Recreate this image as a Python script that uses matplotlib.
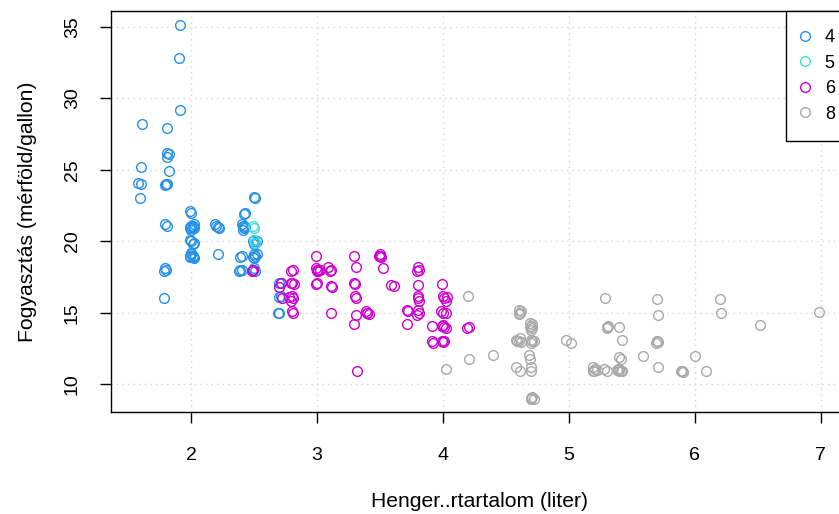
import matplotlib.pyplot as plt
from matplotlib.lines import Line2D

plt.rcParams['font.family'] = ['Liberation Sans', 'DejaVu Sans']

# Hengerszám szerinti csoportok: lökettérfogat (x) és városi fogyasztás (y), enyhén szétszórva
x4 = [1.91, 1.90, 1.91, 1.61, 1.81, 1.81, 1.82, 1.81, 1.60, 1.82, 1.58, 1.60,
      1.80, 1.81, 1.79, 1.59, 2.50, 2.51, 2.00, 1.99, 1.79, 1.81,
      2.00, 2.01, 1.99, 2.02, 2.00, 2.01, 1.99, 2.02,
      2.20, 2.21, 2.19, 2.22, 2.41, 2.42, 2.43, 2.40, 2.42, 2.41, 2.42, 2.43,
      2.00, 1.99, 2.02, 2.01, 2.00, 2.01, 1.99, 2.02, 2.00, 2.01, 1.99,
      2.21, 2.39, 2.40, 2.50, 2.51, 2.49, 2.50, 2.52, 2.50, 2.49, 2.51, 2.50, 2.52,
      2.38, 2.40, 2.39, 2.49, 2.51, 2.50, 1.78, 1.80, 1.79, 1.78,
      2.70, 2.71, 2.70, 2.71, 2.69, 2.70]
y4 = [35.1, 32.8, 29.2, 28.2, 27.9, 26.2, 26.1, 25.9, 25.2, 24.9, 24.1, 24.0,
      24.0, 24.0, 23.9, 23.0, 23.1, 23.0, 22.0, 22.1, 21.2, 21.1,
      21.1, 21.0, 20.9, 21.2, 20.8, 21.1, 21.0, 20.9,
      21.1, 21.0, 21.2, 20.9, 21.1, 20.9, 21.0, 21.2, 21.1, 20.8, 21.9, 22.0,
      20.0, 20.1, 19.9, 19.8, 19.1, 19.0, 18.9, 18.8, 19.2, 18.9, 19.0,
      19.1, 18.9, 19.0, 20.1, 19.9, 20.0, 19.8, 20.0, 19.1, 18.9, 19.0, 18.8, 19.1,
      17.9, 18.0, 18.0, 18.0, 17.9, 18.1, 17.9, 18.0, 18.1, 16.0,
      17.1, 17.1, 16.1, 16.2, 15.0, 14.97]

x5 = [2.49, 2.50, 2.50, 2.51]
y5 = [21.1, 20.9, 20.1, 19.9]

x6 = [2.48, 2.49, 2.79, 2.81, 2.80, 2.82, 2.79, 2.80, 2.81, 2.79, 2.80, 2.81, 2.78,
      2.70, 2.71, 2.72,
      2.99, 3.00, 3.01, 2.99, 3.02, 3.00, 3.00, 2.99,
      3.09, 3.10, 3.11, 3.11, 3.12, 3.11,
      3.29, 3.31, 3.29, 3.30, 3.30, 3.31, 3.31, 3.29, 3.32,
      3.39, 3.40, 3.41, 3.40,
      3.50, 3.51, 3.49, 3.50, 3.52, 3.59, 3.61,
      3.71, 3.72, 3.71,
      3.80, 3.81, 3.79, 3.80, 3.80, 3.81, 3.80, 3.80, 3.79, 3.81,
      3.91, 3.91, 3.92,
      3.99, 4.00, 4.01, 4.02, 4.03, 3.98, 4.00, 4.02, 4.00, 4.01, 3.99, 4.02,
      3.99, 4.00, 4.01, 4.19, 4.21]
y6 = [17.9, 18.0, 17.9, 18.0, 17.1, 17.0, 17.1, 16.2, 16.0, 15.8, 15.1, 15.0, 16.1,
      16.8, 17.1, 16.0,
      19.0, 18.0, 17.9, 18.1, 18.0, 17.9, 17.1, 17.0,
      18.2, 17.9, 18.0, 16.9, 16.8, 15.0,
      19.0, 18.2, 17.1, 17.0, 16.2, 16.0, 14.85, 14.2, 10.9,
      15.1, 15.0, 14.9, 14.95,
      19.1, 18.9, 19.0, 18.95, 18.15, 16.95, 16.9,
      15.2, 15.1, 14.2,
      18.2, 18.0, 17.9, 16.95, 16.2, 15.8, 16.0, 15.2, 14.85, 15.0,
      14.07, 13.0, 12.9,
      17.0, 16.2, 16.0, 15.8, 16.1, 15.1, 15.0, 15.0, 14.15, 14.0, 14.1, 13.95,
      13.0, 12.95, 13.05, 13.9, 14.0]

x8 = [4.20, 4.02, 4.21, 4.40,
      4.60, 4.61, 4.60, 4.62, 4.58, 4.60, 4.61, 4.62, 4.59, 4.58, 4.61,
      4.69, 4.70, 4.71, 4.70, 4.69, 4.71, 4.70, 4.71, 4.70, 4.72, 4.68, 4.69,
      4.70, 4.70, 4.70, 4.71, 4.72, 4.70,
      4.98, 5.02, 5.19, 5.20, 5.21, 5.19, 5.22,
      5.29, 5.30, 5.31, 5.30, 5.28, 5.30,
      5.40, 5.42, 5.40, 5.41, 5.38, 5.40, 5.42, 5.39, 5.41, 5.40,
      5.59, 5.70, 5.71, 5.70, 5.69, 5.71, 5.70, 5.71,
      5.90, 5.89, 5.91, 6.00, 6.09, 6.20, 6.21, 6.52, 6.99]
y8 = [16.2, 11.05, 11.8, 12.05,
      15.2, 15.0, 14.9, 15.1, 13.1, 13.0, 13.2, 12.95, 13.05, 11.2, 10.9,
      14.3, 14.1, 13.9, 13.8, 14.0, 14.2, 13.1, 13.0, 12.9, 13.05, 12.05, 11.8,
      11.2, 10.9, 9.0, 9.1, 9.0, 9.05,
      13.1, 12.9, 11.2, 10.9, 11.1, 10.95, 11.0,
      16.0, 14.0, 14.05, 13.95, 11.1, 10.95,
      14.0, 13.1, 11.9, 11.8, 11.0, 10.9, 10.95, 11.1, 10.9, 11.05,
      12.0, 15.95, 14.83, 13.0, 12.85, 12.95, 13.05, 11.2,
      10.9, 10.95, 10.85, 12.0, 10.95, 15.96, 15.0, 14.15, 15.03]

csoportok = ["4", "5", "6", "8"]
szinek = ["#2490E6", "#3FE0D8", "#CD00CD", "#A9A9A9"]

fig = plt.figure(figsize=(8.39, 5.14), dpi=100)
ax = fig.add_axes([0.1327, 0.199, 0.878, 0.7796])

for xs, ys, szin in zip([x4, x5, x6, x8], [y4, y5, y6, y8], szinek):
    ax.plot(xs, ys, linestyle='none', marker='o', markersize=7.0,
            markerfacecolor='none', markeredgecolor=szin, markeredgewidth=1.0)

ax.set_xlim(1.365, 7.217)
ax.set_ylim(8.08, 36.1)
ax.set_xticks([2, 3, 4, 5, 6, 7])
ax.set_yticks([10, 15, 20, 25, 30, 35])
ax.grid(True, color='lightgray', linestyle=(0, (1, 3)), linewidth=1.0)
ax.set_axisbelow(True)

for s in ax.spines.values():
    s.set_linewidth(1.0)
    s.set_color('black')

ax.tick_params(axis='both', direction='out', length=8, width=1.0,
               labelsize=14, colors='black')
ax.tick_params(axis='x', pad=17.5)
ax.tick_params(axis='y', pad=14)
for lab in ax.get_yticklabels():
    lab.set_rotation(90)
    lab.set_va('center')

ax.set_xlabel("Henger..rtartalom (liter)", fontsize=15.2, labelpad=20)
ax.set_ylabel("Fogyasztás (mérföld/gallon)", fontsize=15.2, labelpad=19)

jelek = [Line2D([], [], linestyle='none', marker='o', markersize=7.0,
                markerfacecolor='none', markeredgecolor=c, markeredgewidth=1.0)
         for c in szinek]
leg = ax.legend(jelek, csoportok, loc='upper right', bbox_to_anchor=(1.0068, 1.0),
                fontsize=13, frameon=True, fancybox=False, borderaxespad=0,
                labelspacing=0.47, handlelength=0.1, handletextpad=1.07,
                borderpad=1.0, framealpha=1)
leg.get_frame().set_edgecolor('black')
leg.get_frame().set_linewidth(1.0)

plt.savefig("out.png", dpi=100)
